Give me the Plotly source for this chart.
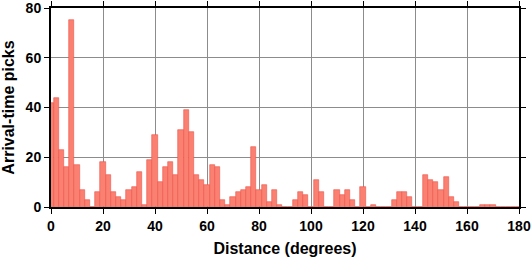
import plotly.graph_objects as go

# Bin centers (degrees), bin width 2 degrees
centers = list(range(0, 182, 2))
counts = [42, 44, 23, 16, 75, 17, 7, 3, 0, 6,
          18, 13, 6, 4, 3, 7, 8, 14, 1, 19,
          29, 10, 16, 18, 13, 31, 39, 30, 13, 11,
          9, 17, 16, 3, 1, 4, 6, 7, 8, 24,
          7, 9, 2, 7, 1, 0, 0, 3, 6, 5,
          0, 11, 6, 0, 0, 7, 5, 7, 3, 0,
          8, 0, 1, 0, 0, 0, 3, 6, 6, 4,
          0, 0, 13, 11, 10, 7, 12, 4, 2, 0,
          0, 0, 0, 1, 1, 1, 0, 0, 0, 0, 0]
x_ticks = [0, 20, 40, 60, 80, 100, 120, 140, 160, 180]
y_ticks = [0, 20, 40, 60, 80]

fig = go.Figure()
fig.add_trace(go.Bar(
    x=centers, y=counts, width=2,
    marker=dict(color="rgb(250,128,114)", line=dict(color="rgb(238,80,70)", width=0.6)),
))

FAM = "Liberation Sans, Arial, sans-serif"
font_bold = dict(family=FAM, size=14, color="black", weight="bold")
title_font = dict(family=FAM, size=16, color="black", weight="bold")

fig.update_layout(
    width=531, height=258,
    margin=dict(l=51, r=12, t=8, b=51),
    paper_bgcolor="white", plot_bgcolor="white",
    showlegend=False, bargap=0,
    xaxis=dict(
        range=[0, 180], tickvals=x_ticks, ticktext=[str(v) for v in x_ticks],
        showgrid=True, gridcolor="rgb(140,140,140)", gridwidth=1,
        showline=True, linecolor="black", linewidth=2, mirror="ticks",
        ticks="outside", ticklen=5, tickwidth=1, tickcolor="black",
        tickfont=font_bold, zeroline=False, automargin=False,
        ticklabeloverflow="allow",
        title=dict(text="Distance (degrees)", font=title_font, standoff=10),
    ),
    yaxis=dict(
        range=[0, 80], tickvals=y_ticks, ticktext=[str(v) for v in y_ticks],
        showgrid=True, gridcolor="rgb(140,140,140)", gridwidth=1,
        showline=True, linecolor="black", linewidth=2, mirror="ticks",
        ticks="outside", ticklen=5, tickwidth=1, tickcolor="black",
        tickfont=font_bold, zeroline=False, automargin=False,
        ticklabeloverflow="allow",
        title=dict(text="Arrival-time picks", font=title_font, standoff=7),
    ),
)

fig.write_html("out.html")
